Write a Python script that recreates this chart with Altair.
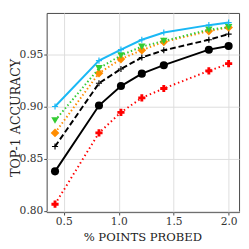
import altair as alt
import pandas as pd

x_vals = [0.42, 0.82, 1.02, 1.21, 1.41, 1.82, 2.0]
cyan_vals = [0.900, 0.944, 0.9545, 0.964, 0.971, 0.978, 0.9805]
green_vals = [0.8866, 0.9366, 0.949, 0.9574, 0.9628, 0.9737, 0.976]
orange_vals = [0.8747, 0.932, 0.9455, 0.954, 0.962, 0.9723, 0.9758]
dashed_vals = [0.8616, 0.9223, 0.936, 0.947, 0.9539, 0.964, 0.9694]
black_vals = [0.8378, 0.9009, 0.9196, 0.9315, 0.9396, 0.9545, 0.958]
red_vals = [0.8063, 0.8747, 0.8944, 0.9083, 0.9173, 0.9342, 0.9411]

x_ticks = [0.5, 1.0, 1.5, 2.0]
y_ticks = [0.80, 0.85, 0.90, 0.95]

PLUS = "M-1,0H1M0,-1V1"
FONT = "DejaVu Serif"

series = [
    # values, color, dash, shape, size, filled, marker stroke width
    (red_vals, "#ff0000", [1.5, 3], "cross", 55, True, 1),
    (black_vals, "#000000", [], "circle", 70, True, 1),
    (dashed_vals, "#000000", [6, 3], PLUS, 40, False, 1.2),
    (orange_vals, "#ff8c00", [1.5, 2.5], "diamond", 80, True, 1),
    (green_vals, "#33cc33", [1.5, 2.5], "triangle-down", 60, True, 1),
    (cyan_vals, "#1ab8f5", [], PLUS, 40, False, 1.2),
]

xs = alt.Scale(domain=[0.344, 2.095], nice=False, zero=False)
ys = alt.Scale(domain=[0.7987, 0.9897], nice=False, zero=False)
xax = alt.Axis(
    values=x_ticks, format=".1f", title="% POINTS PROBED",
    titleX=99, titleY=25, titleBaseline="middle", titleAlign="center",
    titleFontSize=12,
)
yax = alt.Axis(
    values=y_ticks, format=".2f", title="TOP-1 ACCURACY",
    titleX=-32, titleY=108, titleAngle=-90, titleBaseline="middle",
    titleAlign="center", titleFontSize=13,
)

layers = []
for vals, color, dash, shape, size, filled, sw in series:
    df = pd.DataFrame({"x": x_vals, "y": vals})
    base = alt.Chart(df).encode(
        x=alt.X("x:Q", scale=xs, axis=xax),
        y=alt.Y("y:Q", scale=ys, axis=yax),
    )
    line_kw = dict(color=color, strokeWidth=2)
    if dash:
        line_kw["strokeDash"] = dash
    layers.append(base.mark_line(**line_kw))
    layers.append(
        base.mark_point(
            shape=shape, size=size, filled=filled, color=color,
            opacity=1, strokeWidth=sw,
        )
    )

chart = (
    alt.layer(*layers)
    .properties(
        width=199,
        height=206,
        padding={"left": 40, "top": 1, "right": 2, "bottom": 34},
        autosize=alt.AutoSizeParams(type="none"),
    )
    .configure_view(stroke="#444444", strokeWidth=1)
    .configure_axis(
        labelFont=FONT,
        labelFontSize=11,
        labelColor="#333333",
        titleFont=FONT,
        titleFontWeight="normal",
        titleColor="#222222",
        gridColor="#dddddd",
        gridWidth=1,
        domain=False,
        tickColor="#444444",
        tickSize=3,
        labelPadding=1,
    )
)

chart.save("out.html", embed_options={"renderer": "svg", "actions": False})
